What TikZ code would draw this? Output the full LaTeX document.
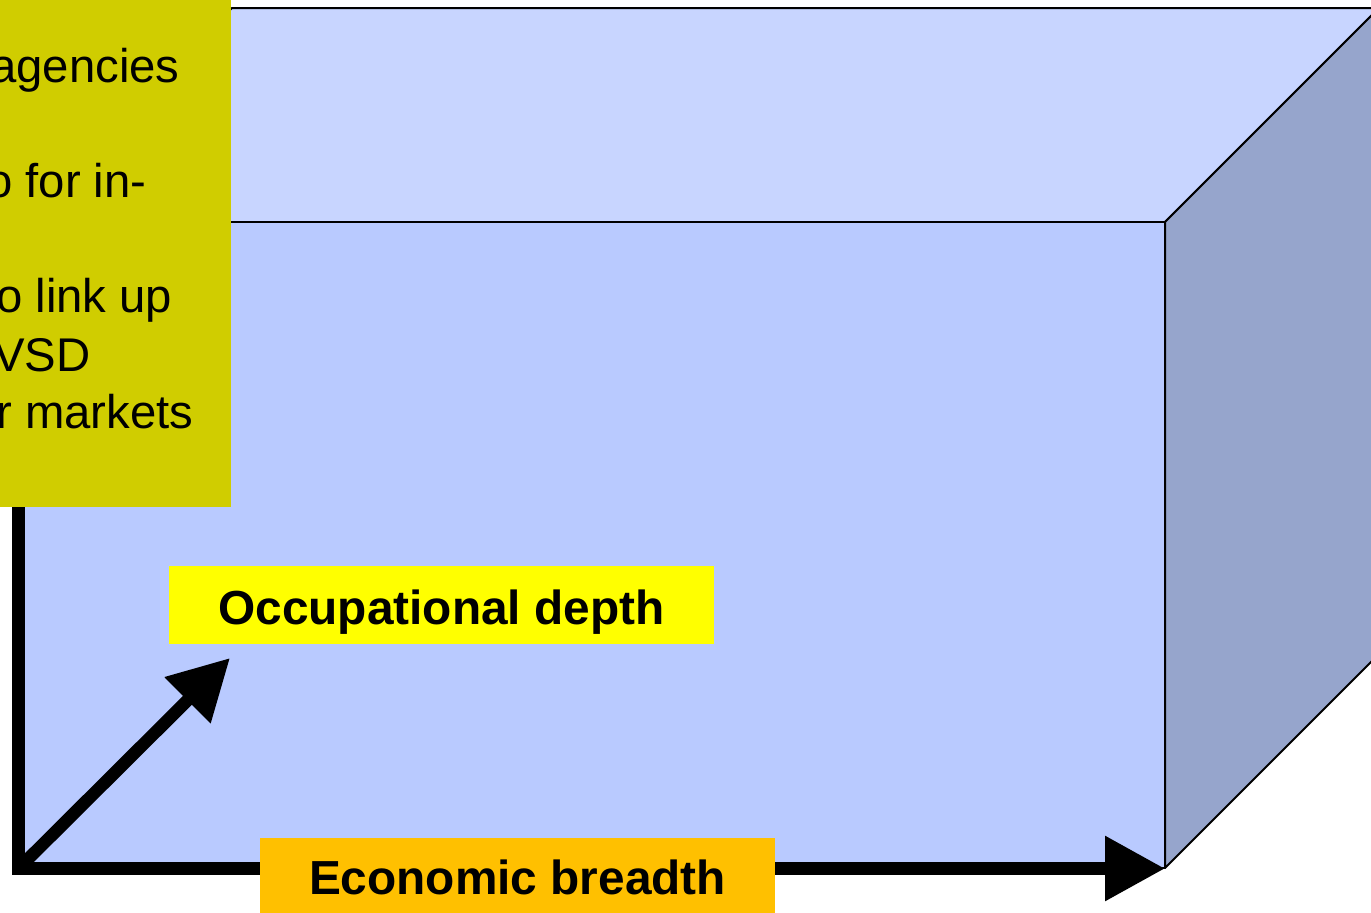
\documentclass[tikz,border=0pt]{standalone}
\usepackage{fontspec}
\setmainfont{Liberation Sans}
\usetikzlibrary{arrows.meta}
\definecolor{topface}{RGB}{200,213,255}
\definecolor{frontface}{RGB}{185,202,255}
\definecolor{sideface}{RGB}{150,165,204}
\definecolor{notebg}{RGB}{208,205,0}
\definecolor{depthbg}{RGB}{255,255,0}
\definecolor{breadthbg}{RGB}{255,192,0}
\begin{document}
\begin{tikzpicture}[x=1pt,y=-1pt,
  face/.style={draw=black,line width=2pt,line join=round},
  axis/.style={line width=12.5pt,line join=miter,-{Triangle[length=60pt,width=62pt]}},
  notetext/.style={anchor=base west,inner sep=0pt,font=\fontsize{47.3}{56}\selectfont},
  axislabel/.style={anchor=base,inner sep=0pt,font=\fontsize{47.8}{56}\selectfont\bfseries}]
\useasboundingbox (0,0) rectangle (1371,913);
\clip (0,0) rectangle (1371,913);
% corners of the box
\coordinate (ftl) at (18,222);
\coordinate (ftr) at (1165,222);
\coordinate (fbr) at (1165,868);
\coordinate (btl) at (232,8);
\coordinate (btr) at (1379,8);
\coordinate (bbr) at (1379,654);
% faces
\filldraw[face,fill=topface] (ftl) -- (btl) -- (btr) -- (ftr) -- cycle;
\filldraw[face,fill=sideface] (ftr) -- (btr) -- (bbr) -- (fbr) -- cycle;
\filldraw[face,fill=frontface] (ftl) rectangle (fbr);
% axes
\coordinate (ytop) at (18.5,450);
\coordinate (origin) at (18.5,868.5);
\coordinate (xend) at (1165,868.5);
\coordinate (zend) at (230,658);
\draw[axis] (ytop) -- (origin) -- (xend);
\draw[axis] (origin) -- (zend);
% note panel, its lines run on past the left edge
\node[fill=notebg,inner sep=0pt,minimum width=231pt,minimum height=507pt,anchor=north west] (note) at (0,0) {};
\node[notetext] (n1) at (-10,82) {agencies};
\node[notetext] (n2) at (-14,197) {o for in-};
\node[notetext] (n3) at (-4,312) {o link up};
\node[notetext] (n4) at (-7,371) {VSD};
\node[notetext] (n5) at (-4,428) {r markets};
% axis labels
\node[axislabel,fill=depthbg,minimum width=545pt,text height=58pt,text depth=20pt] (depth) at (441.5,624) {Occupational depth};
\node[axislabel,fill=breadthbg,minimum width=515pt,text height=56pt,text depth=22pt] (breadth) at (517.5,894) {Economic breadth};
\end{tikzpicture}
\end{document}
